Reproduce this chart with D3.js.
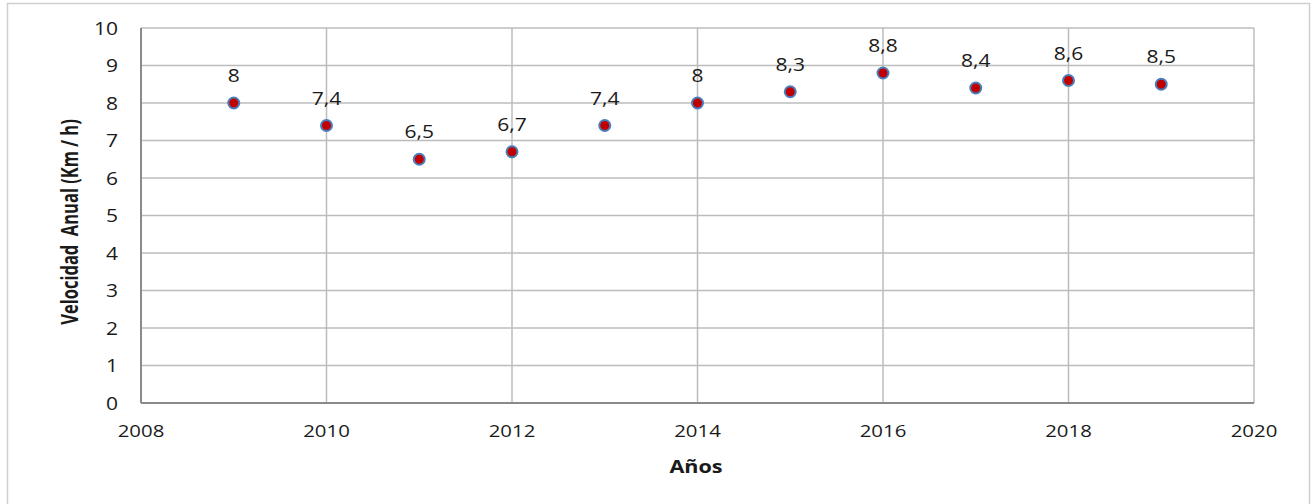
<!DOCTYPE html>
<html>
<head>
<meta charset="utf-8">
<script src="https://cdn.jsdelivr.net/npm/d3@7"></script>
<style>
  html, body { margin: 0; padding: 0; background: #fff; }
  svg { display: block; }
</style>
</head>
<body>
<svg id="chart" width="1312" height="504"></svg>
<script>
// Annual wind speed by year
const years = [2009, 2010, 2011, 2012, 2013, 2014, 2015, 2016, 2017, 2018, 2019];
const speeds = [8, 7.4, 6.5, 6.7, 7.4, 8, 8.3, 8.8, 8.4, 8.6, 8.5];
const labels = ["8", "7,4", "6,5", "6,7", "7,4", "8", "8,3", "8,8", "8,4", "8,6", "8,5"];
const xTicks = [2008, 2010, 2012, 2014, 2016, 2018, 2020];
const yTicks = [0, 1, 2, 3, 4, 5, 6, 7, 8, 9, 10];

const svg = d3.select("#chart");
const font = "'Open Sans', sans-serif";
const SX = 1.2; // text is drawn slightly wide
const m = { left: 141, right: 1254, top: 28, bottom: 403 };

const x = d3.scaleLinear().domain([2008, 2020]).range([m.left, m.right]);
const y = d3.scaleLinear().domain([0, 10]).range([m.bottom, m.top]);

const place = (px, py, rot, sx = SX) => `translate(${px},${py}) scale(${sx},1)` + (rot ? ` rotate(${rot})` : "");

// outer chart frame
svg.append("rect")
  .attr("x", 7.5).attr("y", 3.5).attr("width", 1302).attr("height", 510)
  .attr("fill", "#fff").attr("stroke", "#d0d0d0").attr("stroke-width", 1.5);

// horizontal gridlines
svg.append("g").selectAll("line").data(yTicks.filter(d => d > 0)).join("line")
  .attr("x1", m.left).attr("x2", m.right)
  .attr("y1", d => y(d)).attr("y2", d => y(d))
  .attr("stroke", "#bcbcbc").attr("stroke-width", 1.5);

// vertical gridlines
svg.append("g").selectAll("line").data(xTicks.filter(d => d > 2008)).join("line")
  .attr("x1", d => x(d)).attr("x2", d => x(d))
  .attr("y1", m.top).attr("y2", m.bottom)
  .attr("stroke", "#bcbcbc").attr("stroke-width", 1.5);

// axis lines
svg.append("line").attr("x1", m.left).attr("x2", m.left).attr("y1", m.top).attr("y2", m.bottom)
  .attr("stroke", "#8a8a8a").attr("stroke-width", 2);
svg.append("line").attr("x1", m.left).attr("x2", m.right).attr("y1", m.bottom).attr("y2", m.bottom)
  .attr("stroke", "#8a8a8a").attr("stroke-width", 2);

// y tick labels
svg.append("g").selectAll("text").data(yTicks).join("text")
  .attr("transform", d => place(118, y(d) + 6.5))
  .attr("text-anchor", "end")
  .attr("font-family", font).attr("font-size", 17.5).attr("fill", "#1a1a1a")
  .text(d => d);

// x tick labels
svg.append("g").selectAll("text").data(xTicks).join("text")
  .attr("transform", d => place(x(d), 437))
  .attr("text-anchor", "middle")
  .attr("font-family", font).attr("font-size", 17).attr("fill", "#1a1a1a")
  .text(d => d);

// axis titles
svg.append("text")
  .attr("transform", place(696, 473))
  .attr("text-anchor", "middle")
  .attr("font-family", font).attr("font-size", 18).attr("font-weight", "bold").attr("fill", "#1a1a1a")
  .text("Años");

svg.append("text")
  .attr("transform", place(78, 222, -90, 1.35))
  .attr("text-anchor", "middle")
  .attr("font-family", font).attr("font-size", 16.5).attr("font-weight", "bold").attr("fill", "#1a1a1a")
  .style("white-space", "pre")
  .text("Velocidad  Anual (Km / h)");

// data points
const pts = years.map((yr, i) => ({ yr, v: speeds[i], label: labels[i] }));
svg.append("g").selectAll("circle").data(pts).join("circle")
  .attr("cx", d => x(d.yr)).attr("cy", d => y(d.v)).attr("r", 5.5)
  .attr("fill", "#c00000").attr("stroke", "#4a7ebb").attr("stroke-width", 2);

// value labels
svg.append("g").selectAll("text").data(pts).join("text")
  .attr("transform", d => place(x(d.yr), y(d.v) - 21))
  .attr("text-anchor", "middle")
  .attr("font-family", font).attr("font-size", 17.5).attr("fill", "#1a1a1a")
  .text(d => d.label);
</script>
</body>
</html>
